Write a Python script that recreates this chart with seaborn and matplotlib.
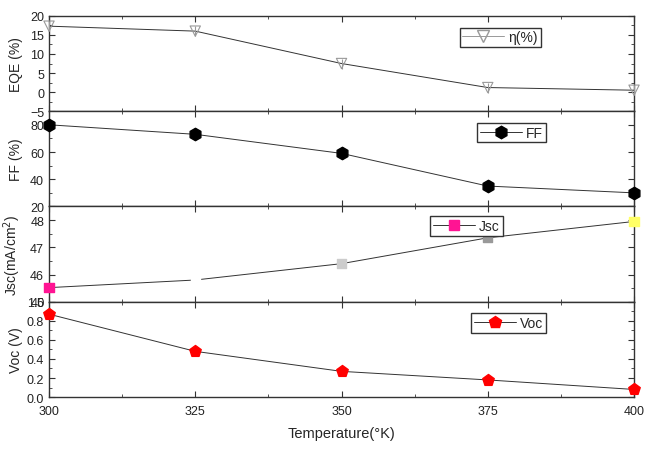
import numpy as np
import pandas as pd
import matplotlib
matplotlib.use("Agg")
import matplotlib.pyplot as plt
import seaborn as sns
from matplotlib.lines import Line2D
from matplotlib.ticker import MultipleLocator

# dados
temperatura = [300, 325, 350, 375, 400]
eqe = [17.3, 16.0, 7.5, 1.2, 0.5]
ff = [80.0, 73.0, 59.0, 35.0, 30.0]
jsc = [45.52, 45.8, 46.4, 47.35, 47.95]
voc = [0.87, 0.48, 0.27, 0.18, 0.08]
cores_jsc = ["#ff1493", "#ffffff", "#cccccc", "#999999", "#ffff66"]

sns.set_style("ticks")
plt.rcParams['font.family'] = ['Liberation Sans', 'DejaVu Sans']
plt.rcParams['xtick.direction'] = 'in'
plt.rcParams['ytick.direction'] = 'in'

df = pd.DataFrame({"T": temperatura, "EQE": eqe, "FF": ff, "Jsc": jsc, "Voc": voc})

fig, axs = plt.subplots(4, 1, figsize=(6.45, 4.56), dpi=100, sharex=True)
fig.subplots_adjust(left=0.076, right=0.983, top=0.963, bottom=0.127, hspace=0)

linha = dict(color="#333333", linewidth=0.7)
leg_kw = dict(loc="upper left", fancybox=False, edgecolor="#333333", framealpha=1,
              handlelength=3.0, borderpad=0.2, handletextpad=0.3, fontsize=10)

# EQE
ax = axs[0]
sns.lineplot(data=df, x="T", y="EQE", ax=ax, **linha)
ax.scatter(df["T"], df["EQE"], marker="v", s=55, facecolors="none", edgecolors="#999999", linewidths=0.8, zorder=3, clip_on=False)
ax.scatter(df["T"], df["EQE"], marker="|", s=55, color="#999999", linewidths=0.8, zorder=3, clip_on=False)
ax.set_ylim(-5, 20)
ax.yaxis.set_major_locator(MultipleLocator(5))
ax.yaxis.set_minor_locator(MultipleLocator(2.5))
ax.set_ylabel("EQE (%)")
h = Line2D([], [], color="#999999", lw=0.7, marker="v", mfc="none", mec="#999999", ms=8)
ax.legend([h], ["η(%)"], bbox_to_anchor=(0.69, 0.95), **leg_kw)

# FF
ax = axs[1]
sns.lineplot(data=df, x="T", y="FF", ax=ax, **linha)
ax.scatter(df["T"], df["FF"], marker="h", s=80, color="black", zorder=3, clip_on=False)
ax.set_ylim(20, 90)
ax.yaxis.set_major_locator(MultipleLocator(20))
ax.yaxis.set_minor_locator(MultipleLocator(10))
ax.set_ylabel("FF (%)")
h = Line2D([], [], color="#333333", lw=0.7, marker="h", mfc="black", mec="black", ms=9)
ax.legend([h], ["FF"], bbox_to_anchor=(0.72, 0.95), **leg_kw)

# Jsc
ax = axs[2]
sns.lineplot(data=df, x="T", y="Jsc", ax=ax, **linha)
ax.scatter(df["T"], df["Jsc"], marker="s", s=45, c=cores_jsc, zorder=3, clip_on=False)
ax.set_ylim(45, 48.5)
ax.yaxis.set_major_locator(MultipleLocator(1))
ax.yaxis.set_minor_locator(MultipleLocator(0.5))
ax.set_ylabel("Jsc(mA/cm$^2$)")
h = Line2D([], [], color="#333333", lw=0.7, marker="s", mfc="#ff1493", mec="#ff1493", ms=7)
ax.legend([h], ["Jsc"], bbox_to_anchor=(0.64, 0.97), **leg_kw)

# Voc
ax = axs[3]
sns.lineplot(data=df, x="T", y="Voc", ax=ax, **linha)
ax.scatter(df["T"], df["Voc"], marker="p", s=75, color="red", zorder=3, clip_on=False)
ax.set_ylim(0, 1.0)
ax.yaxis.set_major_locator(MultipleLocator(0.2))
ax.yaxis.set_minor_locator(MultipleLocator(0.1))
ax.set_ylabel("Voc (V)")
h = Line2D([], [], color="#333333", lw=0.7, marker="p", mfc="red", mec="red", ms=9)
ax.legend([h], ["Voc"], bbox_to_anchor=(0.71, 0.95), **leg_kw)

for ax in axs:
    ax.set_xlim(300, 400)
    ax.xaxis.set_major_locator(MultipleLocator(25))
    ax.xaxis.set_minor_locator(MultipleLocator(12.5))
    ax.tick_params(which="both", top=True, right=True, labelsize=9, colors="#333333", labelcolor="#222222")
    ax.tick_params(which="major", length=4)
    ax.tick_params(which="minor", length=2.5)
    ax.tick_params(axis="x", pad=6)
    ax.yaxis.label.set_size(10)
    ax.set_xlabel("")
    for s in ax.spines.values():
        s.set_color("#333333")
        s.set_linewidth(1.0)
    ax.yaxis.set_label_coords(-0.045, 0.5)

axs[3].set_xticks(temperatura)
axs[3].set_xlabel("Temperature(°K)", fontsize=10.5, labelpad=6)

plt.savefig("out.png", dpi=100)
